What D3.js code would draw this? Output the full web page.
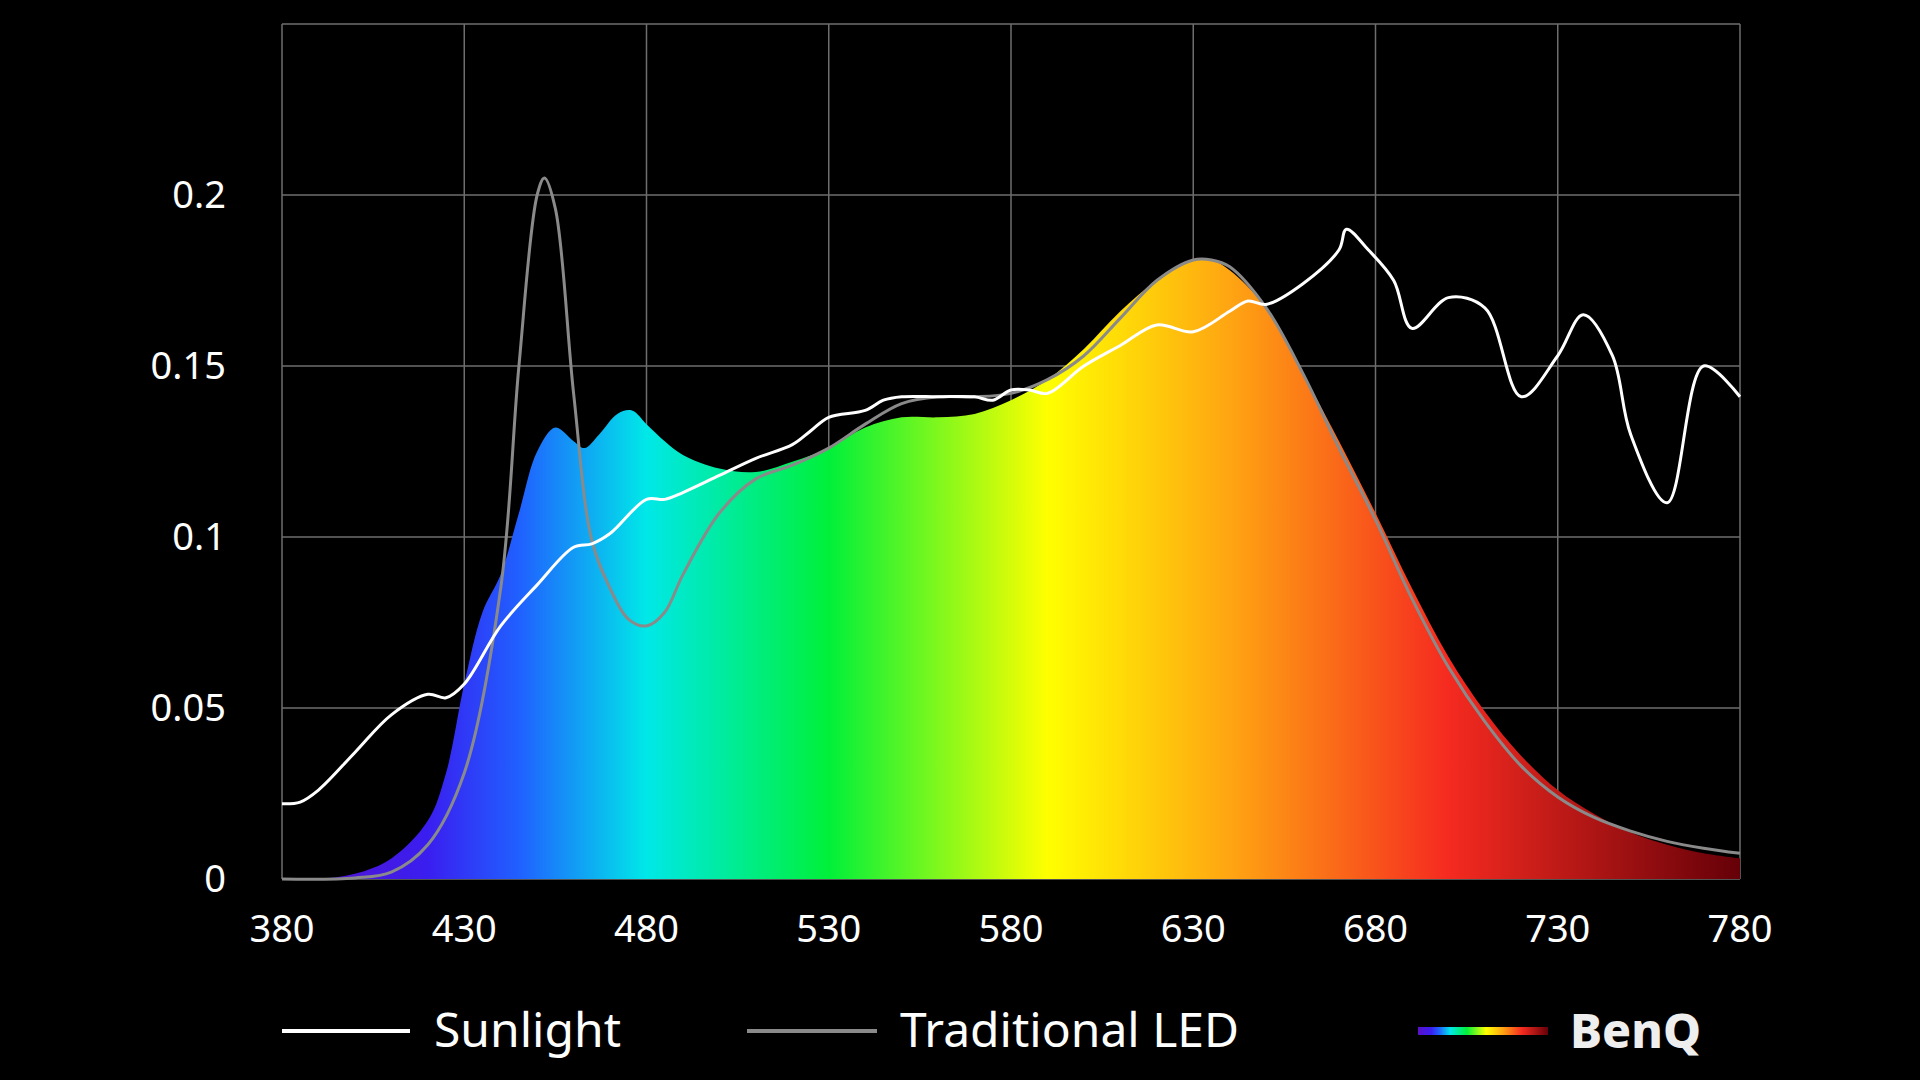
<!DOCTYPE html>
<html><head><meta charset="utf-8">
<script src="https://cdn.jsdelivr.net/npm/d3@7"></script>
<style>body{margin:0;background:#000}svg{display:block}</style>
</head><body><svg id="c" width="1920" height="1080"></svg>
<script>
const xTicks=[380,430,480,530,580,630,680,730,780];
const yTicks=[0,0.05,0.1,0.15,0.2];
const sunWl=[380,385,390,400,410,420,425,430,440,450,460,465,470,480,485,490,500,510,520,525,530,540,545,550,560,570,575,580,585,590,600,610,620,630,640,645,650,660,670,672,678,685,690,700,710,720,730,737,745,750,760,770,780];
const sunVal=[0.022,0.0225,0.026,0.037,0.048,0.054,0.053,0.057,0.074,0.086,0.097,0.098,0.101,0.111,0.111,0.113,0.118,0.123,0.127,0.131,0.135,0.137,0.140,0.141,0.141,0.141,0.140,0.143,0.143,0.142,0.150,0.156,0.162,0.160,0.166,0.169,0.168,0.174,0.184,0.190,0.184,0.175,0.161,0.170,0.167,0.141,0.153,0.165,0.153,0.130,0.110,0.150,0.141];
const ledWl=[380,400,410,420,430,440,445,450,452,455,460,465,470,475,480,485,490,500,510,520,530,540,550,560,570,580,590,600,610,620,630,635,640,650,660,670,680,690,700,710,720,730,740,750,760,770,780];
const ledVal=[0,0.0003,0.002,0.010,0.031,0.085,0.150,0.200,0.205,0.196,0.142,0.099,0.085,0.076,0.074,0.078,0.089,0.107,0.117,0.121,0.126,0.133,0.139,0.141,0.141,0.142,0.146,0.153,0.164,0.175,0.181,0.181,0.179,0.167,0.148,0.126,0.105,0.082,0.062,0.046,0.033,0.024,0.018,0.014,0.011,0.009,0.0075];
const benqWl=[380,390,400,410,420,425,430,435,440,445,450,455,460,463,467,472,476,480,485,490,500,510,520,530,540,550,560,570,580,590,600,610,620,630,635,640,650,660,670,680,690,700,710,720,730,740,750,760,770,780];
const benqVal=[0,0,0.0015,0.006,0.017,0.031,0.057,0.078,0.089,0.107,0.125,0.132,0.128,0.126,0.130,0.136,0.137,0.133,0.128,0.124,0.120,0.119,0.122,0.126,0.132,0.135,0.135,0.136,0.140,0.146,0.155,0.166,0.175,0.181,0.181,0.178,0.167,0.148,0.128,0.107,0.085,0.065,0.049,0.036,0.026,0.019,0.0136,0.010,0.0075,0.006];
const specWl=[380,420,445,480,530,590,640,700,780];
const specCol=["#5a10c8","#3a1ef0","#2060ff","#00e8e8","#00f03a","#ffff00","#ffa512","#f52a20","#650008"];

const svg=d3.select("#c");
const x=d3.scaleLinear().domain([380,780]).range([282,1740]);
const y=d3.scaleLinear().domain([0,0.25]).range([879,24]);
const font="'Noto Sans', sans-serif";

const defs=svg.append("defs");
const g=defs.append("linearGradient").attr("id","spec").attr("gradientUnits","userSpaceOnUse")
 .attr("x1",x(380)).attr("x2",x(780)).attr("y1",0).attr("y2",0);
specWl.forEach((w,i)=>g.append("stop").attr("offset",(w-380)/400).attr("stop-color",specCol[i]));
const g2=defs.append("linearGradient").attr("id","leg").attr("x1",0).attr("x2",1);
specWl.forEach((w,i)=>g2.append("stop").attr("offset",(w-380)/400).attr("stop-color",specCol[i]));

// grid
svg.append("g").selectAll("line").data(xTicks).join("line")
 .attr("x1",d=>x(d)).attr("x2",d=>x(d)).attr("y1",y(0.25)).attr("y2",y(0))
 .attr("stroke","#6e6e6e").attr("stroke-width",1.5);
svg.append("g").selectAll("line").data(yTicks.concat([0.25])).join("line")
 .attr("x1",x(380)).attr("x2",x(780)).attr("y1",d=>y(d)).attr("y2",d=>y(d))
 .attr("stroke","#6e6e6e").attr("stroke-width",1.5);

const curve=d3.curveCatmullRom.alpha(0.5);
const benq=benqWl.map((w,i)=>[w,benqVal[i]]);
svg.append("path").datum(benq).attr("fill","url(#spec)")
 .attr("d",d3.area().x(d=>x(d[0])).y0(y(0)).y1(d=>y(d[1])).curve(curve));
const line=d3.line().x(d=>x(d[0])).y(d=>y(d[1])).curve(curve);
svg.append("path").datum(ledWl.map((w,i)=>[w,ledVal[i]])).attr("fill","none")
 .attr("stroke","#8a8a8a").attr("stroke-width",3).attr("d",line);
svg.append("path").datum(sunWl.map((w,i)=>[w,sunVal[i]])).attr("fill","none")
 .attr("stroke","#fff").attr("stroke-width",3).attr("d",line);

// axes labels
svg.append("g").selectAll("text").data(xTicks).join("text")
 .attr("x",d=>x(d)).attr("y",942).attr("text-anchor","middle")
 .attr("fill","#fff").attr("font-family",font).attr("font-size",38).text(d=>d);
svg.append("g").selectAll("text").data(yTicks).join("text")
 .attr("x",226).attr("y",d=>y(d)+13).attr("text-anchor","end")
 .attr("fill","#fff").attr("font-family",font).attr("font-size",38).text(d=>d===0?"0":String(d));

// legend
const ly=1031;
svg.append("line").attr("x1",282).attr("x2",410).attr("y1",ly).attr("y2",ly).attr("stroke","#fff").attr("stroke-width",4);
svg.append("text").attr("x",434).attr("y",ly+16).attr("fill","#fff").attr("font-family",font).attr("font-size",48).text("Sunlight");
svg.append("line").attr("x1",747).attr("x2",877).attr("y1",ly).attr("y2",ly).attr("stroke","#8a8a8a").attr("stroke-width",4);
svg.append("text").attr("x",900).attr("y",ly+16).attr("fill","#fff").attr("font-family",font).attr("font-size",48).text("Traditional LED");
svg.append("rect").attr("x",1418).attr("y",ly-4).attr("width",130).attr("height",8).attr("fill","url(#leg)");
svg.append("text").attr("x",1570).attr("y",ly+17).attr("fill","#eee").attr("font-family",font).attr("font-weight",800).attr("font-size",48).text("BenQ");
</script></body></html>
